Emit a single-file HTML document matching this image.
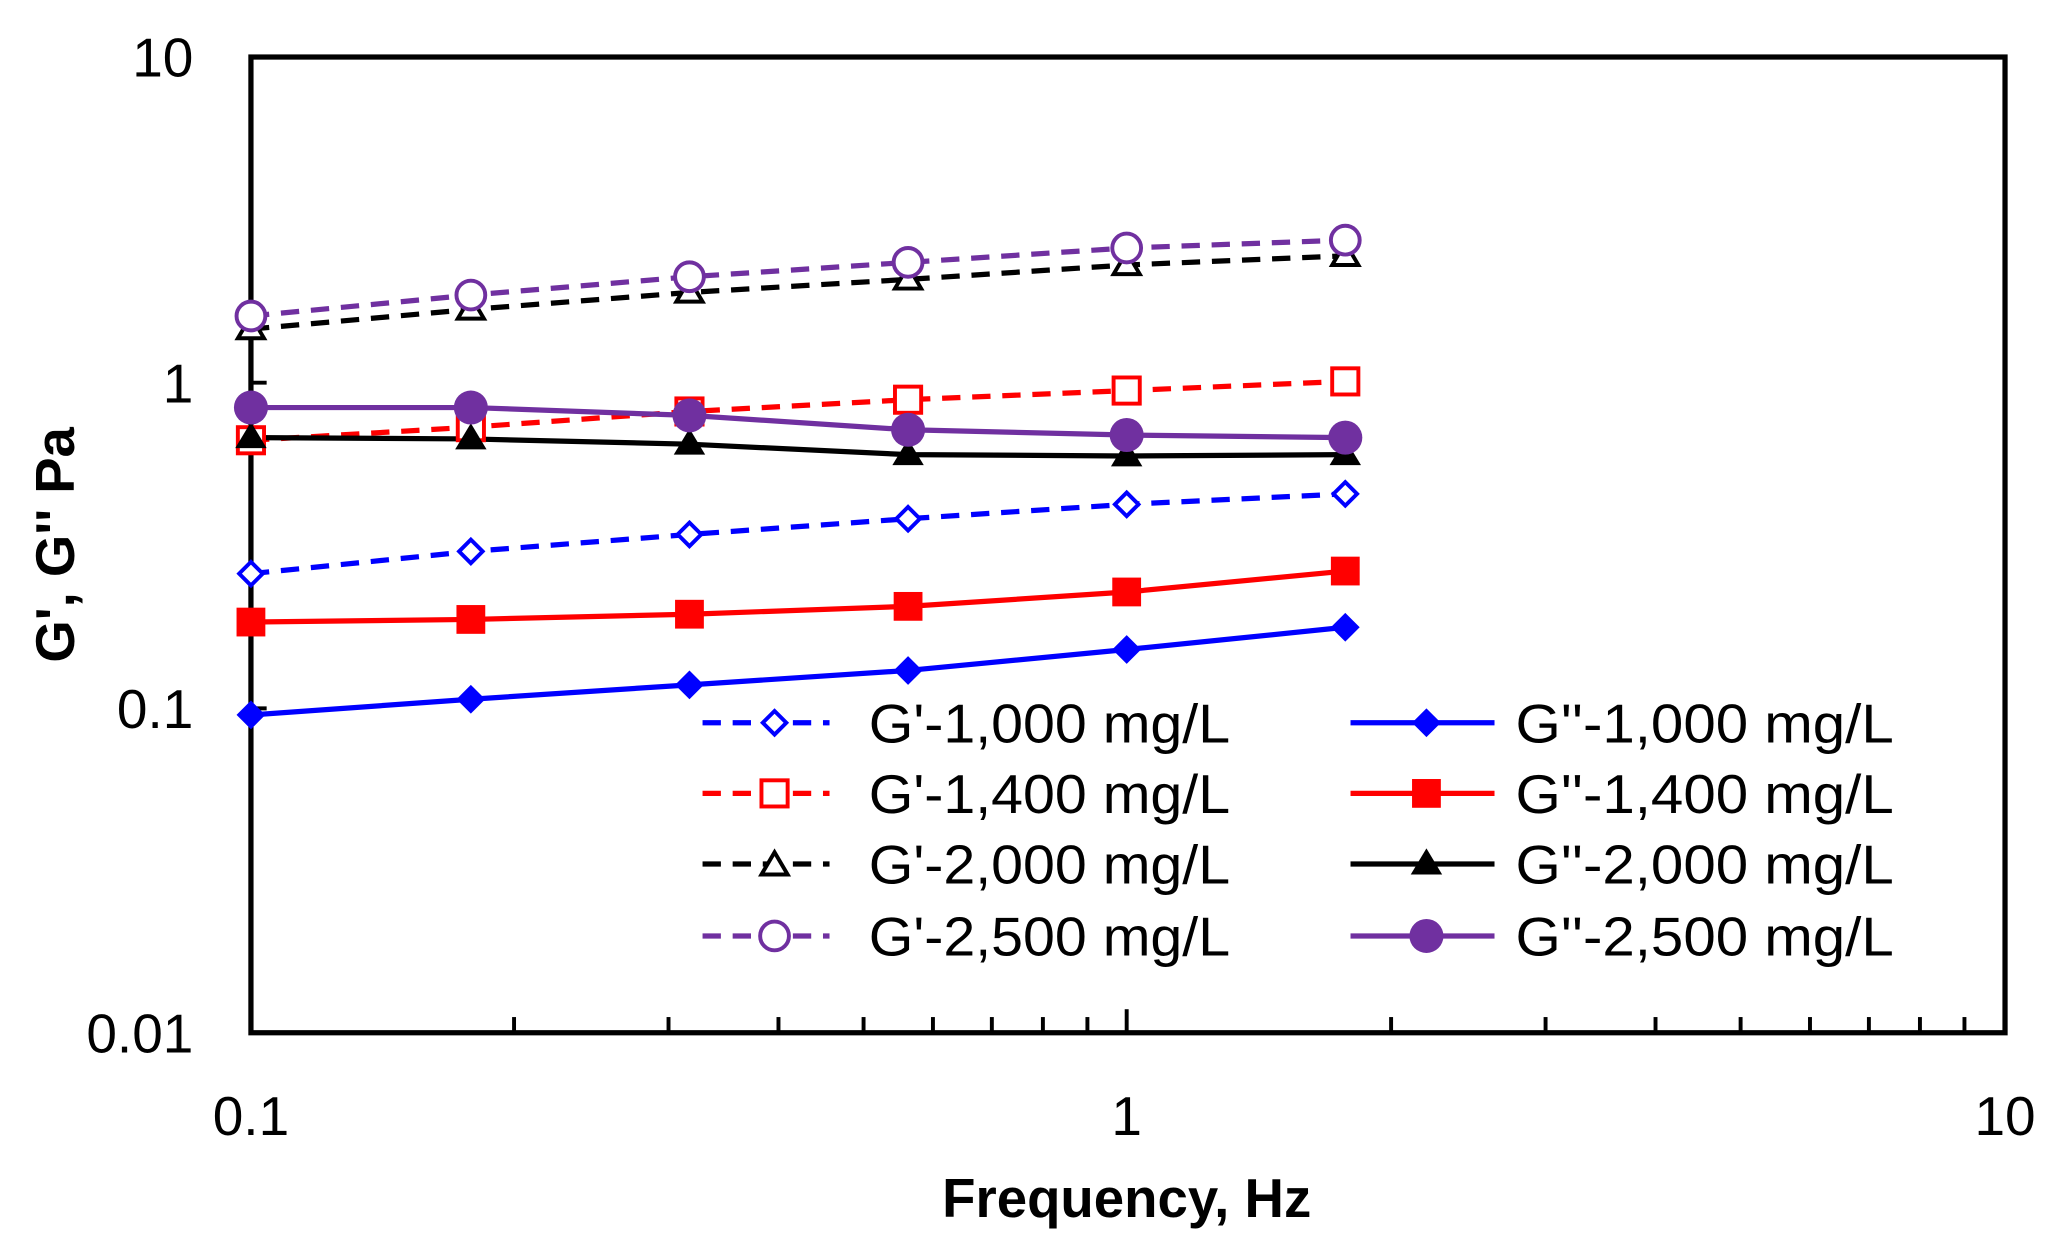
<!DOCTYPE html>
<html><head><meta charset="utf-8"><style>html,body{margin:0;padding:0;background:#fff}svg{display:block}</style></head>
<body>
<svg width="2057" height="1250" viewBox="-1.7 -1.6 1571.4 955.7" preserveAspectRatio="none" xmlns="http://www.w3.org/2000/svg" font-family="'Liberation Sans', sans-serif">
<rect x="-2" y="-2" width="1580" height="960" fill="#fff"/>
<g stroke="#000" stroke-width="3">
<line x1="391" y1="788" x2="391" y2="776"/><line x1="509" y1="788" x2="509" y2="776"/><line x1="593" y1="788" x2="593" y2="776"/><line x1="658" y1="788" x2="658" y2="776"/><line x1="711" y1="788" x2="711" y2="776"/><line x1="756" y1="788" x2="756" y2="776"/><line x1="795" y1="788" x2="795" y2="776"/><line x1="829" y1="788" x2="829" y2="776"/><line x1="859" y1="788" x2="859" y2="770"/>
<line x1="1061" y1="788" x2="1061" y2="776"/><line x1="1179" y1="788" x2="1179" y2="776"/><line x1="1263" y1="788" x2="1263" y2="776"/><line x1="1328" y1="788" x2="1328" y2="776"/><line x1="1381" y1="788" x2="1381" y2="776"/><line x1="1426" y1="788" x2="1426" y2="776"/><line x1="1465" y1="788" x2="1465" y2="776"/><line x1="1499" y1="788" x2="1499" y2="776"/>
<line x1="190" y1="291" x2="202" y2="291"/><line x1="190" y1="540" x2="202" y2="540"/>
</g>
<rect x="190" y="42" width="1340" height="746" fill="none" stroke="#000" stroke-width="4"/>
<g font-size="42" fill="#000">
<text x="146" y="57" text-anchor="end">10</text>
<text x="146" y="306" text-anchor="end">1</text>
<text x="146" y="555" text-anchor="end">0.1</text>
<text x="146" y="803" text-anchor="end">0.01</text>
<text x="190" y="866" text-anchor="middle">0.1</text>
<text x="859" y="866" text-anchor="middle">1</text>
<text x="1530" y="866" text-anchor="middle">10</text>
</g>
<text x="859" y="929" text-anchor="middle" font-size="42" font-weight="bold" textLength="282" lengthAdjust="spacingAndGlyphs">Frequency, Hz</text>
<text transform="translate(55,415) rotate(-90)" text-anchor="middle" font-size="42" font-weight="bold" textLength="180" lengthAdjust="spacingAndGlyphs">G', G'' Pa</text>
<g stroke-width="4" fill="none">
<polyline stroke="#00f" stroke-dasharray="14,9" points="190,437 358,420 525,407 692,395 859,384 1026,376"/>
<polyline stroke="#00f" points="190,545 358,533 525,522 692,511 859,495 1026,478"/>
<polyline stroke="#f00" stroke-dasharray="14,9" points="190,335 358,325 525,313 692,304 859,297 1026,290"/>
<polyline stroke="#f00" points="190,474 358,472 525,468 692,462 859,451 1026,435"/>
<polyline stroke="#000" stroke-dasharray="14,9" points="190,250 358,235 525,222 692,212 859,201 1026,194"/>
<polyline stroke="#000" points="190,333 358,334 525,338 692,346 859,347 1026,346"/>
<polyline stroke="#7030a0" stroke-dasharray="14,9" points="190,240 358,224 525,210 692,199 859,188 1026,182"/>
<polyline stroke="#7030a0" points="190,310 358,310 525,316 692,327 859,331 1026,333"/>
</g>
<g fill="#fff" stroke="#00f" stroke-width="3">
<path d="M190,428 l9,9 -9,9 -9,-9z"/><path d="M358,411 l9,9 -9,9 -9,-9z"/><path d="M525,398 l9,9 -9,9 -9,-9z"/><path d="M692,386 l9,9 -9,9 -9,-9z"/><path d="M859,375 l9,9 -9,9 -9,-9z"/><path d="M1026,367 l9,9 -9,9 -9,-9z"/>
</g>
<g fill="#00f">
<path d="M190,534 l11,11 -11,11 -11,-11z"/><path d="M358,522 l11,11 -11,11 -11,-11z"/><path d="M525,511 l11,11 -11,11 -11,-11z"/><path d="M692,500 l11,11 -11,11 -11,-11z"/><path d="M859,484 l11,11 -11,11 -11,-11z"/><path d="M1026,467 l11,11 -11,11 -11,-11z"/>
</g>
<g fill="#fff" stroke="#f00" stroke-width="3">
<rect x="180" y="325" width="20" height="20"/><rect x="348" y="315" width="20" height="20"/><rect x="515" y="303" width="20" height="20"/><rect x="682" y="294" width="20" height="20"/><rect x="849" y="287" width="20" height="20"/><rect x="1016" y="280" width="20" height="20"/>
</g>
<g fill="#f00">
<rect x="179" y="463" width="22" height="22"/><rect x="347" y="461" width="22" height="22"/><rect x="514" y="457" width="22" height="22"/><rect x="681" y="451" width="22" height="22"/><rect x="848" y="440" width="22" height="22"/><rect x="1015" y="424" width="22" height="22"/>
</g>
<g fill="#fff" stroke="#000" stroke-width="3">
<path d="M190,240 l10,17 h-20z"/><path d="M358,225 l10,17 h-20z"/><path d="M525,212 l10,17 h-20z"/><path d="M692,202 l10,17 h-20z"/><path d="M859,191 l10,17 h-20z"/><path d="M1026,184 l10,17 h-20z"/>
</g>
<g fill="#000">
<path d="M190,321 l12,20 h-24z"/><path d="M358,322 l12,20 h-24z"/><path d="M525,326 l12,20 h-24z"/><path d="M692,334 l12,20 h-24z"/><path d="M859,335 l12,20 h-24z"/><path d="M1026,334 l12,20 h-24z"/>
</g>
<g fill="#fff" stroke="#7030a0" stroke-width="3">
<circle cx="190" cy="240" r="11"/><circle cx="358" cy="224" r="11"/><circle cx="525" cy="210" r="11"/><circle cx="692" cy="199" r="11"/><circle cx="859" cy="188" r="11"/><circle cx="1026" cy="182" r="11"/>
</g>
<g fill="#7030a0">
<circle cx="190" cy="310" r="13"/><circle cx="358" cy="310" r="13"/><circle cx="525" cy="316" r="13"/><circle cx="692" cy="327" r="13"/><circle cx="859" cy="331" r="13"/><circle cx="1026" cy="333" r="13"/>
</g>
<g stroke-width="4">
<line x1="535" y1="551" x2="632" y2="551" stroke="#00f" stroke-dasharray="14,9"/>
<line x1="535" y1="605" x2="632" y2="605" stroke="#f00" stroke-dasharray="14,9"/>
<line x1="535" y1="659" x2="632" y2="659" stroke="#000" stroke-dasharray="14,9"/>
<line x1="535" y1="714" x2="632" y2="714" stroke="#7030a0" stroke-dasharray="14,9"/>
<line x1="1030" y1="551" x2="1140" y2="551" stroke="#00f"/>
<line x1="1030" y1="605" x2="1140" y2="605" stroke="#f00"/>
<line x1="1030" y1="659" x2="1140" y2="659" stroke="#000"/>
<line x1="1030" y1="714" x2="1140" y2="714" stroke="#7030a0"/>
</g>
<path d="M590,542 l9,9 -9,9 -9,-9z" fill="#fff" stroke="#00f" stroke-width="3"/>
<rect x="580" y="595" width="20" height="20" fill="#fff" stroke="#f00" stroke-width="3"/>
<path d="M590,650 l10,17 h-20z" fill="#fff" stroke="#000" stroke-width="3"/>
<circle cx="590" cy="714" r="11" fill="#fff" stroke="#7030a0" stroke-width="3"/>
<path d="M1088,540 l11,11 -11,11 -11,-11z" fill="#00f"/>
<rect x="1077" y="594" width="22" height="22" fill="#f00"/>
<path d="M1088,647 l12,20 h-24z" fill="#000"/>
<circle cx="1088" cy="714" r="13" fill="#7030a0"/>
<g font-size="42" fill="#000">
<text x="662" y="566" textLength="276" lengthAdjust="spacingAndGlyphs">G'-1,000 mg/L</text>
<text x="662" y="620" textLength="276" lengthAdjust="spacingAndGlyphs">G'-1,400 mg/L</text>
<text x="662" y="674" textLength="276" lengthAdjust="spacingAndGlyphs">G'-2,000 mg/L</text>
<text x="662" y="729" textLength="276" lengthAdjust="spacingAndGlyphs">G'-2,500 mg/L</text>
<text x="1156" y="566" textLength="289" lengthAdjust="spacingAndGlyphs">G''-1,000 mg/L</text>
<text x="1156" y="620" textLength="289" lengthAdjust="spacingAndGlyphs">G''-1,400 mg/L</text>
<text x="1156" y="674" textLength="289" lengthAdjust="spacingAndGlyphs">G''-2,000 mg/L</text>
<text x="1156" y="729" textLength="289" lengthAdjust="spacingAndGlyphs">G''-2,500 mg/L</text>
</g>
</svg>
</body></html>
